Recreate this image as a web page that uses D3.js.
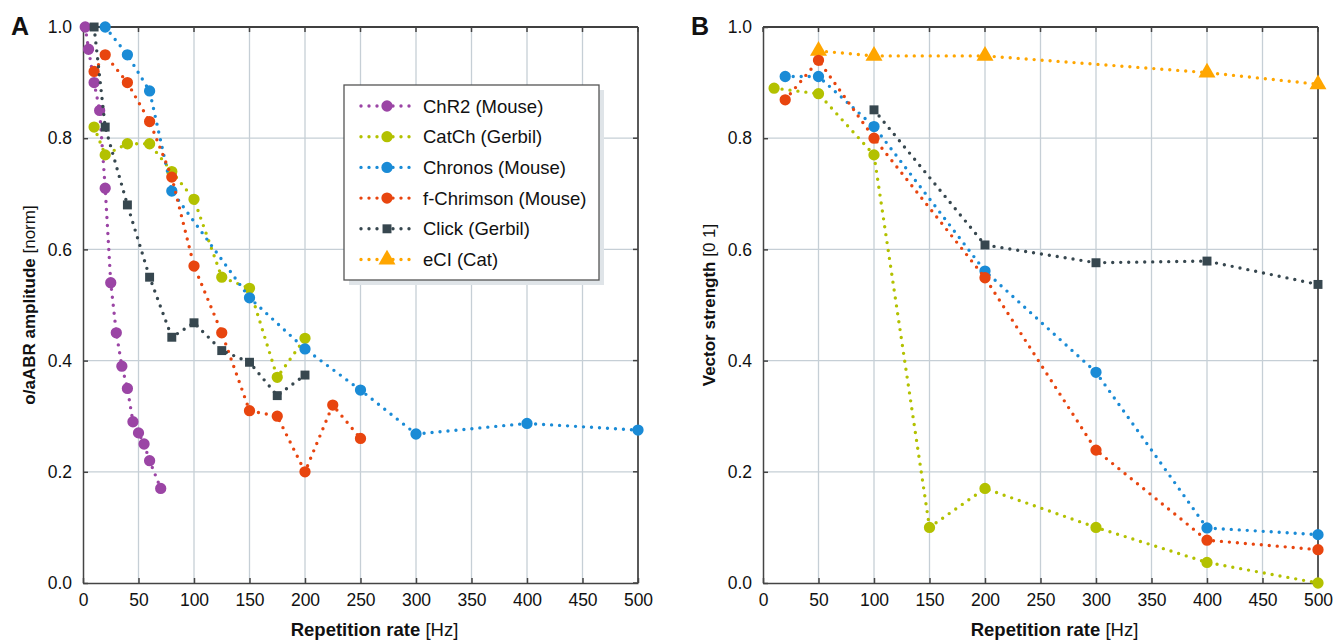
<!DOCTYPE html>
<meta charset="utf-8">
<title>o/aABR amplitude and vector strength</title>
<style>
  body { margin: 0; background: #fff; }
  text { font-family: "Liberation Sans", Arial, Helvetica, sans-serif; fill: #111; }
</style>
<body>
<div id="chart"></div>
<script src="https://d3js.org/d3.v7.min.js"></script>
<script>

// series names / colours / shapes
var seriesNames = ["ChR2 (Mouse)", "CatCh (Gerbil)", "Chronos (Mouse)", "f-Chrimson (Mouse)", "Click (Gerbil)", "eCI (Cat)"];
var seriesColors = ["#9b45a5", "#b3c100", "#1a8bd6", "#e8450f", "#37474f", "#ffa600"];
var seriesShapes = ["circle", "circle", "circle", "circle", "square", "triangle"];

var xTicks = [0, 50, 100, 150, 200, 250, 300, 350, 400, 450, 500];
var yTicks = [0, 0.2, 0.4, 0.6, 0.8, 1.0];

// panel A: o/aABR amplitude
var chr2A_x = [2, 5, 10, 15, 20, 25, 30, 35, 40, 45, 50, 55, 60, 70];
var chr2A_y = [1.0, 0.96, 0.90, 0.85, 0.71, 0.54, 0.45, 0.39, 0.35, 0.29, 0.27, 0.25, 0.22, 0.17];
var catchA_x = [10, 20, 40, 60, 80, 100, 125, 150, 175, 200];
var catchA_y = [0.82, 0.77, 0.79, 0.79, 0.74, 0.69, 0.55, 0.53, 0.37, 0.44];
var chronosA_x = [20, 40, 60, 80, 150, 200, 250, 300, 400, 500];
var chronosA_y = [1.0, 0.95, 0.885, 0.705, 0.513, 0.421, 0.347, 0.268, 0.287, 0.275];
var chrimsonA_x = [10, 20, 40, 60, 80, 100, 125, 150, 175, 200, 225, 250];
var chrimsonA_y = [0.92, 0.95, 0.90, 0.83, 0.73, 0.57, 0.45, 0.31, 0.30, 0.20, 0.32, 0.26];
var clickA_x = [10, 20, 40, 60, 80, 100, 125, 150, 175, 200];
var clickA_y = [1.0, 0.82, 0.68, 0.55, 0.442, 0.468, 0.418, 0.397, 0.337, 0.374];

// panel B: vector strength
var catchB_x = [10, 50, 100, 150, 200, 300, 400, 500];
var catchB_y = [0.89, 0.88, 0.77, 0.10, 0.17, 0.10, 0.037, 0.0];
var chronosB_x = [20, 50, 100, 200, 300, 400, 500];
var chronosB_y = [0.911, 0.911, 0.821, 0.561, 0.379, 0.099, 0.087];
var chrimsonB_x = [20, 50, 100, 200, 300, 400, 500];
var chrimsonB_y = [0.869, 0.94, 0.80, 0.549, 0.239, 0.077, 0.06];
var clickB_x = [100, 200, 300, 400, 500];
var clickB_y = [0.851, 0.608, 0.576, 0.579, 0.537];
var eciB_x = [50, 100, 200, 400, 500];
var eciB_y = [0.957, 0.948, 0.948, 0.918, 0.897];

var panelA = [
  {i: 0, x: chr2A_x, y: chr2A_y},
  {i: 1, x: catchA_x, y: catchA_y},
  {i: 2, x: chronosA_x, y: chronosA_y},
  {i: 3, x: chrimsonA_x, y: chrimsonA_y},
  {i: 4, x: clickA_x, y: clickA_y}
];
var panelB = [
  {i: 5, x: eciB_x, y: eciB_y},
  {i: 4, x: clickB_x, y: clickB_y},
  {i: 1, x: catchB_x, y: catchB_y},
  {i: 2, x: chronosB_x, y: chronosB_y},
  {i: 3, x: chrimsonB_x, y: chrimsonB_y}
];

var W = 1334, H = 642;
var svg = d3.select("#chart").append("svg").attr("width", W).attr("height", H);

var plotW = 555, plotH = 556, plotTop = 27;

function symbolPath(shape) {
  if (shape == "square") return d3.symbol().type(d3.symbolSquare).size(80)();
  if (shape == "triangle") return d3.symbol().type(d3.symbolTriangle).size(125)();
  return d3.symbol().type(d3.symbolCircle).size(100)();
}

function drawMarker(g, shape, color) {
  g.append("path").attr("d", symbolPath(shape)).attr("fill", color);
}

function drawPanel(left, letter, yTitleBold, yTitleRest, data) {
  var g = svg.append("g").attr("transform", "translate(" + left + "," + plotTop + ")");
  var x = d3.scaleLinear().domain([0, 500]).range([0, plotW]);
  var y = d3.scaleLinear().domain([0, 1]).range([plotH, 0]);

  // grid
  g.selectAll(".gx").data(xTicks.slice(1, -1)).enter().append("line")
    .attr("x1", d => x(d)).attr("x2", d => x(d)).attr("y1", 0).attr("y2", plotH)
    .attr("stroke", "#c6cfd6").attr("stroke-width", 1.3);
  g.selectAll(".gy").data(yTicks.slice(1, -1)).enter().append("line")
    .attr("y1", d => y(d)).attr("y2", d => y(d)).attr("x1", 0).attr("x2", plotW)
    .attr("stroke", "#c6cfd6").attr("stroke-width", 1.3);

  // frame: top/right black, left/bottom axes
  g.append("line").attr("x1", 0).attr("x2", plotW).attr("y1", 0).attr("y2", 0).attr("stroke", "#000").attr("stroke-width", 1.3);
  g.append("line").attr("x1", plotW).attr("x2", plotW).attr("y1", 0).attr("y2", plotH).attr("stroke", "#000").attr("stroke-width", 1.3);

  var xa = g.append("g").attr("transform", "translate(0," + plotH + ")")
    .call(d3.axisBottom(x).tickValues(xTicks).tickSizeInner(-5).tickSizeOuter(0).tickPadding(11).tickFormat(d3.format("d")));
  var ya = g.append("g")
    .call(d3.axisLeft(y).tickValues(yTicks).tickSizeInner(-5).tickSizeOuter(0).tickPadding(11).tickFormat(d3.format(".1f")));
  [xa, ya].forEach(function(a) {
    a.select(".domain").attr("stroke", "#444").attr("stroke-width", 1.5);
    a.selectAll(".tick line").attr("stroke", "#444").attr("stroke-width", 1.5);
    a.selectAll("text").style("font-size", "17.5px").style("font-family", "'Liberation Sans', Arial, sans-serif").attr("fill", "#111");
  });
  // ticks on top and right
  g.selectAll(".tt").data(xTicks).enter().append("line")
    .attr("x1", d => x(d)).attr("x2", d => x(d)).attr("y1", 0).attr("y2", 5)
    .attr("stroke", "#444").attr("stroke-width", 1.5);
  g.selectAll(".tr").data(yTicks).enter().append("line")
    .attr("y1", d => y(d)).attr("y2", d => y(d)).attr("x1", plotW - 5).attr("x2", plotW)
    .attr("stroke", "#444").attr("stroke-width", 1.5);

  // series
  var line = d3.line().x(d => x(d[0])).y(d => y(d[1]));
  data.forEach(function(s) {
    var pts = s.x.map((v, k) => [v, s.y[k]]);
    var col = seriesColors[s.i];
    g.append("path").datum(pts).attr("d", line)
      .attr("fill", "none").attr("stroke", col).attr("stroke-width", 3.4)
      .attr("stroke-linecap", "round").attr("stroke-dasharray", "0,8");
    pts.forEach(function(p) {
      var m = g.append("g").attr("transform", "translate(" + x(p[0]) + "," + y(p[1]) + ")");
      drawMarker(m, seriesShapes[s.i], col);
    });
  });

  // titles
  svg.append("text").attr("x", left - 72).attr("y", plotTop + 8)
    .style("font-size", "25px").style("font-weight", "bold").text(letter);

  var yt = svg.append("text")
    .attr("transform", "translate(" + (left - 48) + "," + (plotTop + plotH / 2) + ") rotate(-90)")
    .attr("text-anchor", "middle").style("font-size", "17px");
  yt.append("tspan").style("font-weight", "bold").text(yTitleBold);
  yt.append("tspan").text(" " + yTitleRest);

  var xt = svg.append("text").attr("x", left + plotW / 2 + 14).attr("y", 636)
    .attr("text-anchor", "middle").style("font-size", "18.5px");
  xt.append("tspan").style("font-weight", "bold").text("Repetition rate");
  xt.append("tspan").text(" [Hz]");
  return g;
}

drawPanel(83, "A", "o/aABR amplitude", "[norm]", panelA);
drawPanel(763, "B", "Vector strength", "[0 1]", panelB);

// legend in panel A
var lg = svg.append("g").attr("transform", "translate(344,85)");
lg.append("rect").attr("x", 5).attr("y", 5).attr("width", 255).attr("height", 195).attr("fill", "#dfe4e8");
lg.append("rect").attr("x", 0).attr("y", 0).attr("width", 255).attr("height", 195)
  .attr("fill", "#fff").attr("stroke", "#555").attr("stroke-width", 1.3);
seriesNames.forEach(function(name, i) {
  var row = lg.append("g").attr("transform", "translate(0," + (21 + i * 30.7) + ")");
  row.append("line").attr("x1", 17).attr("x2", 70).attr("y1", 0).attr("y2", 0)
    .attr("stroke", seriesColors[i]).attr("stroke-width", 3.4)
    .attr("stroke-linecap", "round").attr("stroke-dasharray", "0,8");
  var m = row.append("g").attr("transform", "translate(43,0)");
  drawMarker(m, seriesShapes[i], seriesColors[i]);
  row.append("text").attr("x", 79).attr("y", 6.5).style("font-size", "18.5px").text(name);
});
</script>
</body>
